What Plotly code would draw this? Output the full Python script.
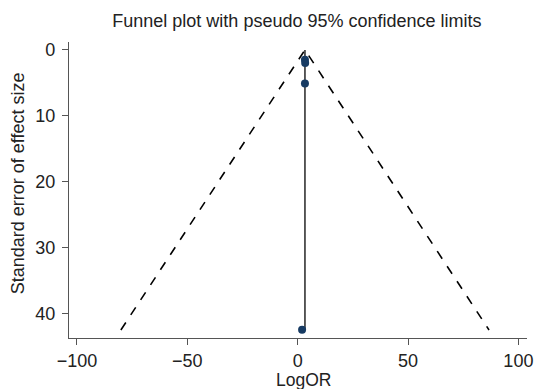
import plotly.graph_objects as go

# Data
log_or = [3.3, 3.4, 3.3, 2.0]
se = [1.5, 2.0, 5.1, 42.5]
pooled = 3.3
se_max = 42.55
x_ticks = [-100, -50, 0, 50, 100]
y_ticks = [0, 10, 20, 30, 40]

fig = go.Figure()
fig.add_trace(go.Scatter(
    x=[pooled - 1.96 * se_max, pooled, pooled + 1.96 * se_max],
    y=[se_max, 0, se_max], mode="lines",
    line=dict(color="black", width=1.6, dash="dash"), showlegend=False))
fig.add_trace(go.Scatter(
    x=[pooled, pooled], y=[0, se_max], mode="lines",
    line=dict(color="#333333", width=1.6), showlegend=False))
fig.add_trace(go.Scatter(
    x=log_or, y=se, mode="markers",
    marker=dict(color="#173b63", size=8), showlegend=False))

font = "Liberation Sans, Arial, sans-serif"
fig.update_layout(
    width=535, height=389,
    margin=dict(l=69, r=8, t=42, b=51),
    plot_bgcolor="white", paper_bgcolor="white",
    font=dict(family=font, size=18, color="#222222"),
    title=dict(text="Funnel plot with pseudo 95% confidence limits",
               x=0.555, xanchor="center", y=0.948, yanchor="middle",
               font=dict(size=18, color="#222222")),
    xaxis=dict(range=[-103.6, 103.9], tickvals=x_ticks,
               ticktext=["\u2212100", "\u221250", "0", "50", "100"],
               showgrid=False, zeroline=False, showline=True,
               linecolor="#555555", linewidth=1.2, automargin=False,
               ticks="outside", ticklen=6, tickcolor="#555555",
               ticklabelstandoff=0),
    yaxis=dict(range=[43.77, -1.2], tickvals=y_ticks,
               showgrid=False, zeroline=False, showline=True,
               linecolor="#555555", linewidth=1.2, automargin=False,
               ticks="outside", ticklen=6, tickcolor="#555555",
               ticklabelstandoff=3),
    annotations=[
        dict(text="LogOR", xref="paper", yref="paper", x=0.513, y=-0.142,
             xanchor="center", yanchor="middle", showarrow=False,
             font=dict(size=17.5, color="#222222")),
        dict(text="Standard error of effect size", xref="paper", yref="paper",
             x=-0.1125, y=0.524, xanchor="center", yanchor="middle",
             textangle=-90, showarrow=False,
             font=dict(size=18, color="#222222")),
    ],
)
fig.write_html("out.html")
